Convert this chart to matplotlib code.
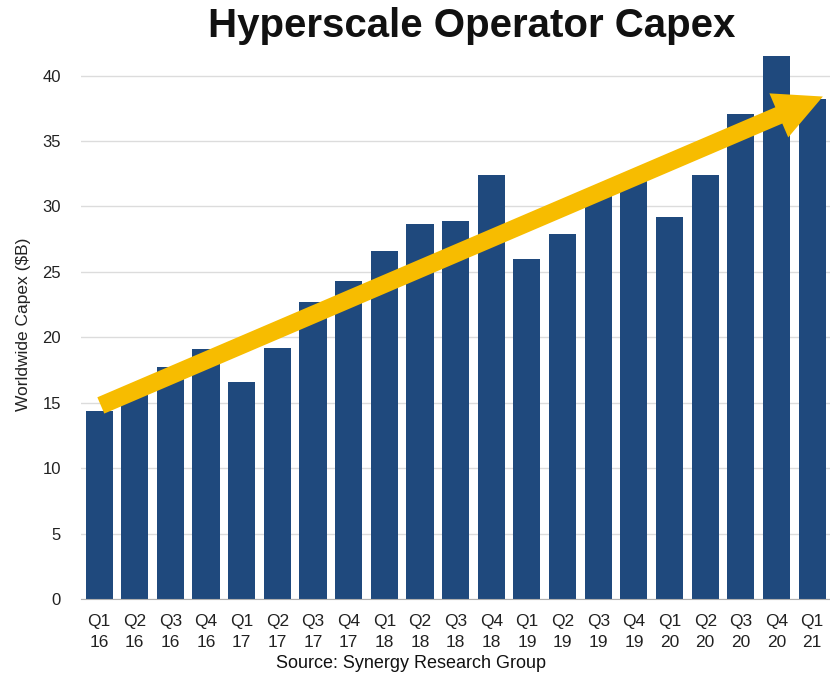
import matplotlib.pyplot as plt

plt.rcParams['font.family'] = ['Liberation Sans', 'DejaVu Sans']

quarters = ['Q1', 'Q2', 'Q3', 'Q4', 'Q1', 'Q2', 'Q3', 'Q4', 'Q1', 'Q2', 'Q3',
            'Q4', 'Q1', 'Q2', 'Q3', 'Q4', 'Q1', 'Q2', 'Q3', 'Q4', 'Q1']
years = ['16', '16', '16', '16', '17', '17', '17', '17', '18', '18', '18',
         '18', '19', '19', '19', '19', '20', '20', '20', '20', '21']
capex = [14.35, 15.9, 17.7, 19.1, 16.6, 19.2, 22.7, 24.3, 26.6, 28.7, 28.9,
         32.4, 26.0, 27.9, 31.0, 32.4, 29.2, 32.4, 37.1, 41.5, 38.2]
trend_start = (0.05, 14.8)
trend_end = (20.3, 38.4)

labels = [f'{q}\n{y}' for q, y in zip(quarters, years)]
x = list(range(len(capex)))

fig = plt.figure(figsize=(8.3, 6.77), dpi=100)
ax = fig.add_axes([0.097, 0.115, 0.903, 0.812])

ax.bar(x, capex, width=0.76, color='#1F497D', zorder=2)
ax.annotate('', xy=trend_end, xytext=trend_start,
            arrowprops=dict(arrowstyle='simple,head_length=2.3,head_width=2.3,tail_width=0.85',
                            color='#F7BC00', lw=0, shrinkA=0, shrinkB=0,
                            mutation_scale=15),
            zorder=3)

ax.set_xlim(-0.52, 20.5)
ax.set_ylim(0, 42)
ax.set_yticks(range(0, 45, 5))
ax.set_xticks(x)
ax.set_xticklabels(labels, fontsize=12.5, color='#222222', linespacing=1.45)
ax.tick_params(axis='y', labelsize=12, labelcolor='#222222', length=0, pad=14)
ax.tick_params(axis='x', length=0, pad=11)
ax.grid(axis='y', color='#dcdcdc', lw=1, zorder=0)
for s in ['top', 'right', 'left']:
    ax.spines[s].set_visible(False)
ax.spines['bottom'].set_color('#b0b0b0')
ax.spines['bottom'].set_zorder(4)

ax.set_ylabel('Worldwide Capex ($B)', fontsize=12.5, color='#222222', labelpad=8)
fig.text(0.568, 0.962, 'Hyperscale Operator Capex', fontsize=29, fontweight='bold',
         ha='center', va='center', color='#111111')
fig.text(0.495, 0.02, 'Source: Synergy Research Group', fontsize=13,
         ha='center', va='center', color='#111111')

fig.savefig('out.png', dpi=100)
